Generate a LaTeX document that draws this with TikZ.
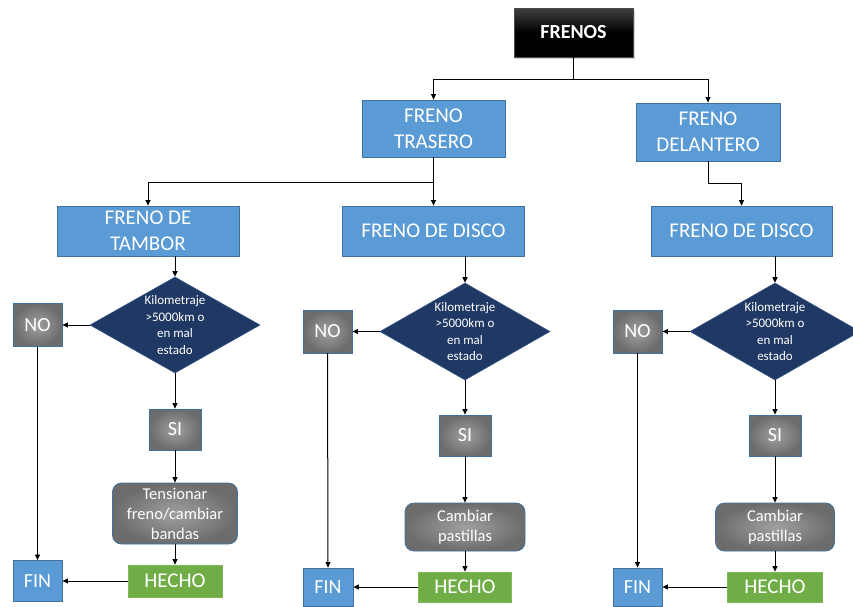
\documentclass[tikz,border=0pt]{standalone}
\usepackage{fontspec}
\setmainfont{Carlito}
\usetikzlibrary{shapes.geometric,arrows.meta,shadows}
\definecolor{bluefill}{HTML}{5B9BD5}
\definecolor{blueedge}{HTML}{41719C}
\definecolor{navy}{HTML}{203864}
\definecolor{navyedge}{HTML}{2F4F85}
\definecolor{greenfill}{HTML}{70AD47}
\definecolor{greenedge}{HTML}{7DBA55}
\definecolor{greyin}{HTML}{A0A0A0}
\definecolor{greyout}{HTML}{6C6C6C}
\begin{document}
\begin{tikzpicture}[x=1pt,y=-1pt,
  box/.style={draw=blueedge, line width=0.8pt, fill=bluefill, text=white, align=center, inner sep=0pt,
    font=\fontsize{21}{25.6}\selectfont},
  topbox/.style={draw=black!70, line width=0.6pt, top color=black!75, bottom color=black, middle color=black,
    text=white, inner sep=0pt, font=\fontsize{20}{24}\selectfont\bfseries,
    minimum width=119pt, minimum height=49pt, drop shadow={opacity=0.35, shadow xshift=1.5pt, shadow yshift=-1.5pt}},
  dia/.style={diamond, draw=navyedge, line width=0.6pt, fill=navy, inner sep=0pt, minimum width=170pt, minimum height=97pt},
  dtxt/.style={text=white, align=center, inner sep=0pt, font=\fontsize{13}{16.5}\selectfont},
  gbox/.style={draw=blueedge, line width=0.8pt, inner color=greyin, outer color=greyout, text=white, align=center,
    inner sep=0pt, font=\fontsize{20}{24}\selectfont},
  abox/.style={draw=blueedge, line width=0.8pt, rounded corners=9pt, inner color=greyin, outer color=greyout, text=white,
    align=center, inner sep=0pt, font=\fontsize{16.5}{20}\selectfont},
  hbox/.style={draw=greenedge, line width=0.8pt, fill=greenfill, text=white, align=center, inner sep=0pt,
    font=\fontsize{21}{24}\selectfont},
  arr/.style={-{Triangle[length=5.5pt,width=5pt]}, line width=1pt, black}]
\useasboundingbox (0,0) rectangle (853,606);
\clip (0,0) rectangle (853,606);

% top level
\node[topbox] (fr) at (573.5,32.5) {FRENOS};
\node[box, minimum width=143pt, minimum height=57pt] (tr) at (433.5,128.5) {FRENO\\TRASERO};
\node[box, minimum width=144pt, minimum height=58pt] (de) at (708,132) {FRENO\\DELANTERO};

% second level
\node[box, minimum width=182pt, minimum height=50pt] (ta) at (148,231) {FRENO DE\\TAMBOR};
\node[box, minimum width=182pt, minimum height=50pt] (da) at (433.5,231) {FRENO DE DISCO};
\node[box, minimum width=181pt, minimum height=50pt] (db) at (741.5,231) {FRENO DE DISCO};

% diamonds
\node[dia, minimum height=96pt] (m1) at (175,325) {};
\node[dtxt] at (m1) {Kilometraje\\>5000km o\\en mal\\estado};
\node[dia] (m2) at (465,331.5) {};
\node[dtxt] at (m2) {Kilometraje\\>5000km o\\en mal\\estado};
\node[dia] (m3) at (775,331.5) {};
\node[dtxt] at (m3) {Kilometraje\\>5000km o\\en mal\\estado};

% NO
\node[gbox, minimum width=49pt, minimum height=43pt] (n1) at (37.5,325) {NO};
\node[gbox, minimum width=49pt, minimum height=43pt] (n2) at (327.5,331.5) {NO};
\node[gbox, minimum width=49pt, minimum height=43pt] (n3) at (637.5,331.5) {NO};

% SI
\node[gbox, minimum width=52pt, minimum height=41pt] (s1) at (175,429.5) {SI};
\node[gbox, minimum width=52pt, minimum height=41pt] (s2) at (465,435.5) {SI};
\node[gbox, minimum width=52pt, minimum height=41pt] (s3) at (775,435.5) {SI};

% actions
\node[abox, minimum width=125pt, minimum height=61pt] (a1) at (175,513.5) {Tensionar\\freno/cambiar\\bandas};
\node[abox, minimum width=120pt, minimum height=48pt] (a2) at (465,527) {Cambiar\\pastillas};
\node[abox, minimum width=119pt, minimum height=48pt] (a3) at (775,527) {Cambiar\\pastillas};

% HECHO
\node[hbox, minimum width=94pt, minimum height=32pt] (h1) at (175,581) {HECHO};
\node[hbox, minimum width=93pt, minimum height=30pt] (h2) at (465,587) {HECHO};
\node[hbox, minimum width=95pt, minimum height=30pt] (h3) at (775,587) {HECHO};

% FIN
\node[box, font=\fontsize{20}{24}\selectfont, minimum width=49pt, minimum height=41pt] (f1) at (37.5,581) {FIN};
\node[box, font=\fontsize{20}{24}\selectfont, minimum width=50pt, minimum height=38pt] (f2) at (328,587) {FIN};
\node[box, font=\fontsize{20}{24}\selectfont, minimum width=49pt, minimum height=38pt] (f3) at (637.5,587) {FIN};

% connectors top
\coordinate (j1) at (573.5,79);
\draw[line width=1pt] (fr.south) -- (j1);
\draw[arr] (j1) -| (tr.north);
\draw[arr] (j1) -| (de.north);
\coordinate (j2) at (433.5,182);
\draw[line width=1pt] (tr.south) -- (j2);
\draw[arr] (j2) -| (ta.north);
\draw[arr] (j2) -- (da.north);
\coordinate (j3) at (708,183);
\draw[line width=1pt] (de.south) -- (j3);
\draw[arr] (j3) -| (db.north);

% columns
\foreach \b/\m/\n/\s/\a/\h/\f in {ta/m1/n1/s1/a1/h1/f1, da/m2/n2/s2/a2/h2/f2, db/m3/n3/s3/a3/h3/f3}{
  \draw[arr] (\b.south -| \m.north) -- (\m.north);
  \draw[arr] (\m.west) -- (\n.east);
  \draw[arr] (\m.south) -- (\s.north);
  \draw[arr] (\s.south) -- (\a.north);
  \draw[arr] (\a.south) -- (\h.north);
  \draw[arr] (\h.west) -- (\f.east);
  \draw[arr] (\n.south) -- (\f.north);
}
\end{tikzpicture}
\end{document}
